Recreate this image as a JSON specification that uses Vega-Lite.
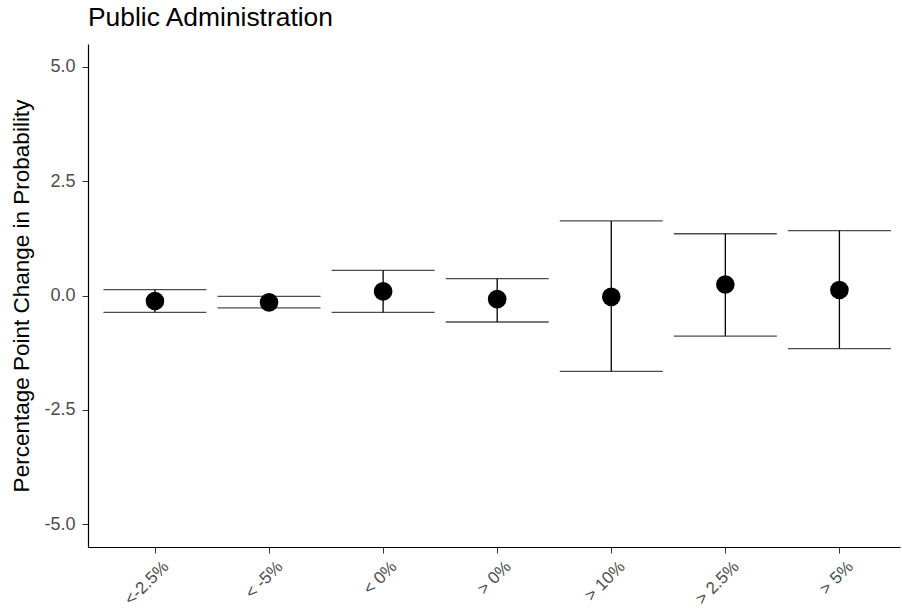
{
  "$schema": "https://vega.github.io/schema/vega-lite/v6.json",
  "autosize": {"type": "none"},
  "width": 812,
  "height": 503,
  "padding": {"left": 88, "top": 44, "right": 2, "bottom": 68},
  "background": "white",
  "title": {
    "text": "Public Administration",
    "anchor": "start",
    "frame": "group",
    "font": "Liberation Sans",
    "fontSize": 26.4,
    "fontWeight": "normal",
    "color": "black",
    "offset": 13
  },
  "config": {
    "view": {"stroke": null},
    "font": "Liberation Sans"
  },
  "data": {
    "values": [
      {"label": "<-2.5%", "est": -0.12, "lo": -0.37, "hi": 0.13},
      {"label": "< -5%", "est": -0.15, "lo": -0.27, "hi": -0.02},
      {"label": "< 0%", "est": 0.09, "lo": -0.37, "hi": 0.55},
      {"label": "> 0%", "est": -0.08, "lo": -0.58, "hi": 0.37},
      {"label": "> 10%", "est": -0.03, "lo": -1.66, "hi": 1.63},
      {"label": "> 2.5%", "est": 0.24, "lo": -0.89, "hi": 1.35},
      {"label": "> 5%", "est": 0.12, "lo": -1.16, "hi": 1.42}
    ]
  },
  "encoding": {
    "x": {
      "field": "label",
      "type": "nominal",
      "sort": null,
      "scale": {"type": "point", "padding": 0.559, "align": 0.525},
      "axis": {
        "title": null,
        "labelAngle": -45,
        "labelAlign": "right",
        "labelBaseline": "top",
        "labelFont": "Liberation Sans",
        "labelFontSize": 17,
        "labelColor": "#4D4D4D",
        "labelOffset": 5,
        "domainColor": "black",
        "domainWidth": 1.2,
        "tickColor": "#333333",
        "tickSize": 6,
        "labelPadding": 5,
        "grid": false
      }
    }
  },
  "layer": [
    {
      "mark": {"type": "rule", "color": "black", "strokeWidth": 1.3},
      "encoding": {
        "y": {
          "datum": 0,
          "type": "quantitative",
          "scale": {"domain": [-5.5, 5.5], "nice": false, "zero": false},
          "axis": {
            "title": "Percentage Point Change in Probability",
            "titleFont": "Liberation Sans",
            "titleFontSize": 22.5,
            "titleFontWeight": "normal",
            "titleColor": "black",
            "titlePadding": 10,
            "values": [-5, -2.5, 0, 2.5, 5],
            "format": ".1f",
            "labelExpr": "replace(datum.label, '\u2212', '-')",
            "labelFont": "Liberation Sans",
            "labelFontSize": 18,
            "labelColor": "#4D4D4D",
            "domainColor": "black",
            "domainWidth": 1.2,
            "tickColor": "#333333",
            "tickSize": 6,
            "labelPadding": 7,
            "grid": false
          }
        }
      }
    },
    {
      "mark": {"type": "rule", "color": "black", "strokeWidth": 1.3},
      "encoding": {
        "y": {"field": "lo", "type": "quantitative"},
        "y2": {"field": "hi"}
      }
    },
    {
      "mark": {"type": "tick", "color": "black", "size": 103, "thickness": 1.3, "orient": "horizontal"},
      "encoding": {
        "y": {"field": "lo", "type": "quantitative"}
      }
    },
    {
      "mark": {"type": "tick", "color": "black", "size": 103, "thickness": 1.3, "orient": "horizontal"},
      "encoding": {
        "y": {"field": "hi", "type": "quantitative"}
      }
    },
    {
      "mark": {"type": "circle", "color": "black", "opacity": 1, "size": 346},
      "encoding": {
        "y": {"field": "est", "type": "quantitative"}
      }
    }
  ]
}
